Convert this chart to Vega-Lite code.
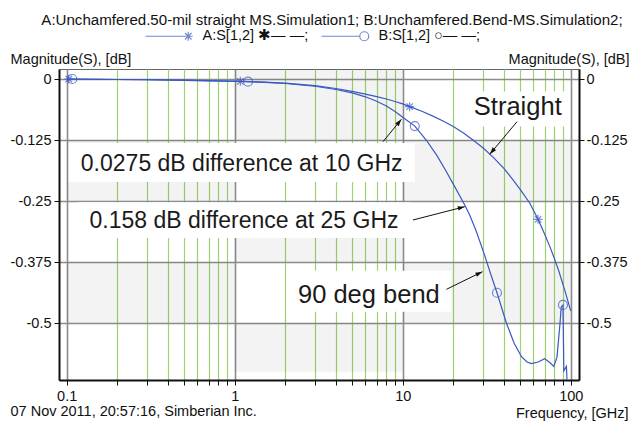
{
  "$schema": "https://vega.github.io/schema/vega-lite/v6.json",
  "autosize": {"type": "none"},
  "padding": {"left": 59, "top": 69, "right": 51, "bottom": 45},
  "width": 520,
  "height": 311,
  "title": {
    "text": "A:Unchamfered.50-mil straight MS.Simulation1; B:Unchamfered.Bend-MS.Simulation2;",
    "orient": "top",
    "anchor": "middle",
    "frame": "group",
    "font": "Liberation Sans",
    "fontSize": 15.1,
    "fontWeight": "normal",
    "color": "#111",
    "dx": 13,
    "offset": 1
  },
  "config": {
    "font": "Liberation Sans",
    "view": {"stroke": "#666", "strokeWidth": 1},
    "axis": {
      "labelFont": "Liberation Sans",
      "labelFontSize": 14.5,
      "labelColor": "#111",
      "titleFont": "Liberation Sans",
      "titleFontSize": 14.5,
      "titleFontWeight": "normal",
      "titleColor": "#111",
      "domainColor": "#111",
      "domainWidth": 2,
      "tickColor": "#111",
      "tickWidth": 1,
      "tickSize": 5,
      "labelOverlap": false,
      "labelFlush": false,
      "labelBound": false
    },
    "legend": {
      "orient": "none",
      "direction": "horizontal",
      "title": null,
      "labelFont": "Liberation Sans",
      "labelFontSize": 14.5,
      "labelColor": "#111",
      "labelOffset": 7,
      "symbolSize": 81,
      "symbolStrokeWidth": 1.2,
      "symbolFillColor": "transparent"
    }
  },
  "datasets": {
    "checker": [
      {"f": 0.1, "f2": 1, "db": -0.125, "db2": -0.25},
      {"f": 0.1, "f2": 1, "db": -0.375, "db2": -0.5},
      {"f": 1, "f2": 10, "db": 0.0205, "db2": -0.125},
      {"f": 1, "f2": 10, "db": -0.25, "db2": -0.375},
      {"f": 1, "f2": 10, "db": -0.5, "db2": -0.6},
      {"f": 10, "f2": 100, "db": -0.125, "db2": -0.25},
      {"f": 10, "f2": 100, "db": -0.375, "db2": -0.5}
    ],
    "boxes": [
      {"f": 23.7, "f2": 98.6, "db": -0.0256, "db2": -0.0973},
      {"f": 0.1028, "f2": 11.8, "db": -0.1311, "db2": -0.2111},
      {"f": 0.1163, "f2": 11.0, "db": -0.2525, "db2": -0.3258},
      {"f": 2.04, "f2": 19.5, "db": -0.3928, "db2": -0.4768}
    ],
    "curves": [
      {"series": "A", "f": 0.1, "db": 0},
      {"series": "A", "f": 0.15, "db": -0.0005},
      {"series": "A", "f": 0.2, "db": -0.001},
      {"series": "A", "f": 0.3, "db": -0.0015},
      {"series": "A", "f": 0.5, "db": -0.0025},
      {"series": "A", "f": 0.7, "db": -0.0035},
      {"series": "A", "f": 1, "db": -0.0045},
      {"series": "A", "f": 1.5, "db": -0.0065},
      {"series": "A", "f": 2, "db": -0.0085},
      {"series": "A", "f": 3, "db": -0.0135},
      {"series": "A", "f": 4, "db": -0.0195},
      {"series": "A", "f": 5, "db": -0.0255},
      {"series": "A", "f": 6, "db": -0.031},
      {"series": "A", "f": 7, "db": -0.036},
      {"series": "A", "f": 8, "db": -0.041},
      {"series": "A", "f": 9, "db": -0.046},
      {"series": "A", "f": 10, "db": -0.051},
      {"series": "A", "f": 11, "db": -0.0567},
      {"series": "A", "f": 13, "db": -0.066},
      {"series": "A", "f": 15, "db": -0.0755},
      {"series": "A", "f": 17.5, "db": -0.0865},
      {"series": "A", "f": 20, "db": -0.0975},
      {"series": "A", "f": 23, "db": -0.1105},
      {"series": "A", "f": 26.2, "db": -0.125},
      {"series": "A", "f": 30, "db": -0.141},
      {"series": "A", "f": 34.5, "db": -0.16},
      {"series": "A", "f": 40, "db": -0.183},
      {"series": "A", "f": 45, "db": -0.205},
      {"series": "A", "f": 50, "db": -0.226},
      {"series": "A", "f": 57, "db": -0.254},
      {"series": "A", "f": 63.9, "db": -0.2876},
      {"series": "A", "f": 70, "db": -0.318},
      {"series": "A", "f": 75, "db": -0.343},
      {"series": "A", "f": 80, "db": -0.368},
      {"series": "A", "f": 85, "db": -0.394},
      {"series": "A", "f": 92, "db": -0.432},
      {"series": "A", "f": 100, "db": -0.475},
      {"series": "B", "f": 0.1, "db": 0},
      {"series": "B", "f": 0.15, "db": -0.0005},
      {"series": "B", "f": 0.2, "db": -0.001},
      {"series": "B", "f": 0.3, "db": -0.0015},
      {"series": "B", "f": 0.5, "db": -0.0027},
      {"series": "B", "f": 0.7, "db": -0.0037},
      {"series": "B", "f": 1, "db": -0.0047},
      {"series": "B", "f": 1.2, "db": -0.0055},
      {"series": "B", "f": 1.5, "db": -0.0068},
      {"series": "B", "f": 2, "db": -0.0092},
      {"series": "B", "f": 3, "db": -0.0148},
      {"series": "B", "f": 4, "db": -0.0215},
      {"series": "B", "f": 5, "db": -0.0285},
      {"series": "B", "f": 6, "db": -0.0365},
      {"series": "B", "f": 7, "db": -0.0455},
      {"series": "B", "f": 8, "db": -0.0555},
      {"series": "B", "f": 9, "db": -0.0665},
      {"series": "B", "f": 10, "db": -0.0785},
      {"series": "B", "f": 11.8, "db": -0.0965},
      {"series": "B", "f": 13.8, "db": -0.125},
      {"series": "B", "f": 16, "db": -0.157},
      {"series": "B", "f": 18.2, "db": -0.19},
      {"series": "B", "f": 20.5, "db": -0.222},
      {"series": "B", "f": 23.4, "db": -0.258},
      {"series": "B", "f": 25, "db": -0.278},
      {"series": "B", "f": 27.4, "db": -0.312},
      {"series": "B", "f": 30.7, "db": -0.361},
      {"series": "B", "f": 33.5, "db": -0.401},
      {"series": "B", "f": 36.4, "db": -0.438},
      {"series": "B", "f": 41.4, "db": -0.5},
      {"series": "B", "f": 46, "db": -0.541},
      {"series": "B", "f": 50.9, "db": -0.569},
      {"series": "B", "f": 55, "db": -0.58},
      {"series": "B", "f": 58.3, "db": -0.583},
      {"series": "B", "f": 64, "db": -0.58},
      {"series": "B", "f": 70, "db": -0.573},
      {"series": "B", "f": 75, "db": -0.581},
      {"series": "B", "f": 79.3, "db": -0.589},
      {"series": "B", "f": 82.8, "db": -0.57},
      {"series": "B", "f": 86, "db": -0.508},
      {"series": "B", "f": 87.8, "db": -0.467},
      {"series": "B", "f": 89.9, "db": -0.463},
      {"series": "B", "f": 91, "db": -0.598},
      {"series": "B", "f": 94.3, "db": -0.589},
      {"series": "B", "f": 97, "db": -0.7}
    ],
    "markers": [
      {"series": "A:S[1,2]", "f": 0.103, "db": 0},
      {"series": "A:S[1,2]", "f": 1.08, "db": -0.0048},
      {"series": "A:S[1,2]", "f": 11.0, "db": -0.0567},
      {"series": "A:S[1,2]", "f": 63.9, "db": -0.2876},
      {"series": "B:S[1,2]", "f": 0.108, "db": 0},
      {"series": "B:S[1,2]", "f": 1.2, "db": -0.0055},
      {"series": "B:S[1,2]", "f": 11.8, "db": -0.0965},
      {"series": "B:S[1,2]", "f": 36.4, "db": -0.438},
      {"series": "B:S[1,2]", "f": 89.9, "db": -0.463}
    ],
    "arrows": [
      {"f": 7.63, "db": -0.1285, "f2": 9.82, "db2": -0.0826, "ang": 39},
      {"f": 11.5, "db": -0.2889, "f2": 23.4, "db2": -0.2617, "ang": 76},
      {"f": 18.2, "db": -0.431, "f2": 29.8, "db2": -0.3949, "ang": 64},
      {"f": 47.9, "db": -0.0875, "f2": 33.0, "db2": -0.154, "ang": 220}
    ],
    "notes": [
      {"kind": "big", "f": 48.4, "db": -0.0738, "label": "Straight"},
      {"kind": "small", "f": 1.101, "db": -0.1885, "label": "0.0275 dB difference at 10 GHz"},
      {"kind": "small", "f": 1.136, "db": -0.3047, "label": "0.158 dB difference at 25 GHz"},
      {"kind": "big", "f": 6.29, "db": -0.4584, "label": "90 deg bend"}
    ]
  },
  "resolve": {"axis": {"x": "independent", "y": "independent"}},
  "layer": [
    {
      "description": "checkerboard shading behind the curves, with the frequency and magnitude axes",
      "data": {"name": "checker"},
      "mark": {"type": "rect", "fill": "#000", "opacity": 0.047},
      "encoding": {
        "x": {
          "field": "f", "type": "quantitative",
          "scale": {"type": "log", "domain": [0.09, 112], "nice": false},
          "axis": {
            "orient": "bottom",
            "values": [0.1, 0.2, 0.3, 0.4, 0.5, 0.6, 0.7, 0.8, 0.9, 1, 2, 3, 4, 5, 6, 7, 8, 9, 10, 20, 30, 40, 50, 60, 70, 80, 90, 100],
            "labelExpr": "(datum.value == 0.1 || datum.value == 1 || datum.value == 10 || datum.value == 100) ? ('' + datum.value) : ''",
            "labelPadding": 4,
            "grid": true,
            "gridColor": {"condition": {"test": "datum.value == 0.1 || datum.value == 1 || datum.value == 10 || datum.value == 100", "value": "#8c8c8c"}, "value": "#9ed26f"},
            "gridWidth": {"condition": {"test": "datum.value == 0.1 || datum.value == 1 || datum.value == 10 || datum.value == 100", "value": 1.6}, "value": 1.2},
            "title": "Frequency, [GHz]",
            "titleX": 569,
            "titleY": 33,
            "titleAlign": "right",
            "titleBaseline": "middle",
            "titleAnchor": null
          }
        },
        "x2": {"field": "f2"},
        "y": {
          "field": "db", "type": "quantitative",
          "scale": {"domain": [-0.6168, 0.0205], "nice": false, "zero": false},
          "axis": {
            "orient": "left",
            "values": [0, -0.125, -0.25, -0.375, -0.5],
            "labelExpr": "'' + datum.value",
            "labelPadding": 3,
            "grid": true,
            "gridColor": "#8c8c8c",
            "gridWidth": 1.6,
            "title": "Magnitude(S), [dB]",
            "titleAngle": 0,
            "titleX": -49,
            "titleY": -10,
            "titleAlign": "left",
            "titleBaseline": "middle",
            "titleAnchor": null
          }
        },
        "y2": {"field": "db2"}
      }
    },
    {
      "description": "white boxes behind the annotation text, with the right axis and the time stamp",
      "data": {"name": "boxes"},
      "mark": {"type": "rect", "fill": "#ffffff"},
      "encoding": {
        "x": {
          "field": "f", "type": "quantitative",
          "scale": {"type": "log", "domain": [0.09, 112], "nice": false},
          "axis": {
            "orient": "top",
            "labels": false, "ticks": false, "domain": false, "grid": false,
            "title": "07 Nov 2011, 20:57:16, Simberian Inc.",
            "titleX": -49,
            "titleY": 342,
            "titleAlign": "left",
            "titleBaseline": "middle",
            "titleAnchor": null
          }
        },
        "x2": {"field": "f2"},
        "y": {
          "field": "db", "type": "quantitative",
          "scale": {"domain": [-0.6168, 0.0205], "nice": false, "zero": false},
          "axis": {
            "orient": "right",
            "values": [0, -0.125, -0.25, -0.375, -0.5],
            "labelExpr": "'' + datum.value",
            "labelPadding": 2,
            "grid": false,
            "title": "Magnitude(S), [dB]",
            "titleAngle": 0,
            "titleX": 50,
            "titleY": -10,
            "titleAlign": "right",
            "titleBaseline": "middle",
            "titleAnchor": null
          }
        },
        "y2": {"field": "db2"}
      }
    },
    {
      "description": "S[1,2] magnitude of both simulations",
      "data": {"name": "curves"},
      "mark": {"type": "line", "stroke": "#3a57c4", "strokeWidth": 1.2, "clip": true},
      "encoding": {
        "x": {"field": "f", "type": "quantitative", "scale": {"type": "log", "domain": [0.09, 112], "nice": false}, "axis": null},
        "y": {"field": "db", "type": "quantitative", "scale": {"domain": [-0.6168, 0.0205], "nice": false, "zero": false}, "axis": null},
        "detail": {"field": "series"}
      }
    },
    {
      "description": "star markers of simulation A, with its legend entry",
      "data": {"name": "markers"},
      "transform": [{"filter": "datum.series == 'A:S[1,2]'"}],
      "mark": {"type": "point", "filled": false, "strokeWidth": 1.2, "size": 81, "clip": true,
               "shape": "M-1,0H1M0,-1V1M-0.72,-0.72L0.72,0.72M-0.72,0.72L0.72,-0.72"},
      "encoding": {
        "x": {"field": "f", "type": "quantitative", "scale": {"type": "log", "domain": [0.09, 112], "nice": false}, "axis": null},
        "y": {"field": "db", "type": "quantitative", "scale": {"domain": [-0.6168, 0.0205], "nice": false, "zero": false}, "axis": null},
        "color": {
          "field": "series", "type": "nominal",
          "scale": {"domain": ["A:S[1,2]"], "range": ["#3a57c4"]},
          "legend": {
            "legendX": 122,
            "legendY": -40,
            "symbolType": "M-9.5,0H-1M-1,0H1M0,-1V1M-0.72,-0.72L0.72,0.72M-0.72,0.72L0.72,-0.72",
            "symbolStrokeColor": "#3a57c4",
            "labelExpr": "datum.label + ' ✱— —;'"
          }
        }
      }
    },
    {
      "description": "circle markers of simulation B, with its legend entry",
      "data": {"name": "markers"},
      "transform": [{"filter": "datum.series == 'B:S[1,2]'"}],
      "mark": {"type": "point", "filled": false, "strokeWidth": 1.2, "size": 81, "clip": true,
               "shape": "M1,0A1,1 0 1,1 -1,0A1,1 0 1,1 1,0Z"},
      "encoding": {
        "x": {"field": "f", "type": "quantitative", "scale": {"type": "log", "domain": [0.09, 112], "nice": false}, "axis": null},
        "y": {"field": "db", "type": "quantitative", "scale": {"domain": [-0.6168, 0.0205], "nice": false, "zero": false}, "axis": null},
        "stroke": {
          "field": "series", "type": "nominal",
          "scale": {"domain": ["B:S[1,2]"], "range": ["#3a57c4"]},
          "legend": {
            "legendX": 298,
            "legendY": -40,
            "symbolType": "M-9.5,0H-1M1,0A1,1 0 1,1 -1,0A1,1 0 1,1 1,0Z",
            "symbolStrokeColor": "#3a57c4",
            "labelExpr": "datum.label + ' ○— —;'"
          }
        }
      }
    },
    {
      "description": "arrow shafts from the notes to the curves",
      "data": {"name": "arrows"},
      "mark": {"type": "rule", "stroke": "#111", "strokeWidth": 1},
      "encoding": {
        "x": {"field": "f", "type": "quantitative", "scale": {"type": "log", "domain": [0.09, 112], "nice": false}, "axis": null},
        "x2": {"field": "f2"},
        "y": {"field": "db", "type": "quantitative", "scale": {"domain": [-0.6168, 0.0205], "nice": false, "zero": false}, "axis": null},
        "y2": {"field": "db2"}
      }
    },
    {
      "description": "arrow heads",
      "data": {"name": "arrows"},
      "mark": {"type": "point", "filled": true, "fill": "#111", "stroke": null, "size": 196, "opacity": 1, "shape": "M0,0L-0.32,1L0.32,1Z"},
      "encoding": {
        "x": {"field": "f2", "type": "quantitative", "scale": {"type": "log", "domain": [0.09, 112], "nice": false}, "axis": null},
        "y": {"field": "db2", "type": "quantitative", "scale": {"domain": [-0.6168, 0.0205], "nice": false, "zero": false}, "axis": null},
        "angle": {"field": "ang", "type": "quantitative", "scale": null}
      }
    },
    {
      "description": "curve names",
      "data": {"name": "notes"},
      "transform": [{"filter": "datum.kind == 'big'"}],
      "mark": {"type": "text", "font": "Liberation Sans", "fontSize": 25.5, "fill": "#1a1a1a", "align": "center", "baseline": "alphabetic"},
      "encoding": {
        "x": {"field": "f", "type": "quantitative", "scale": {"type": "log", "domain": [0.09, 112], "nice": false}, "axis": null},
        "y": {"field": "db", "type": "quantitative", "scale": {"domain": [-0.6168, 0.0205], "nice": false, "zero": false}, "axis": null},
        "text": {"field": "label"}
      }
    },
    {
      "description": "difference notes",
      "data": {"name": "notes"},
      "transform": [{"filter": "datum.kind == 'small'"}],
      "mark": {"type": "text", "font": "Liberation Sans", "fontSize": 23, "fill": "#1a1a1a", "align": "center", "baseline": "alphabetic"},
      "encoding": {
        "x": {"field": "f", "type": "quantitative", "scale": {"type": "log", "domain": [0.09, 112], "nice": false}, "axis": null},
        "y": {"field": "db", "type": "quantitative", "scale": {"domain": [-0.6168, 0.0205], "nice": false, "zero": false}, "axis": null},
        "text": {"field": "label"}
      }
    }
  ]
}
